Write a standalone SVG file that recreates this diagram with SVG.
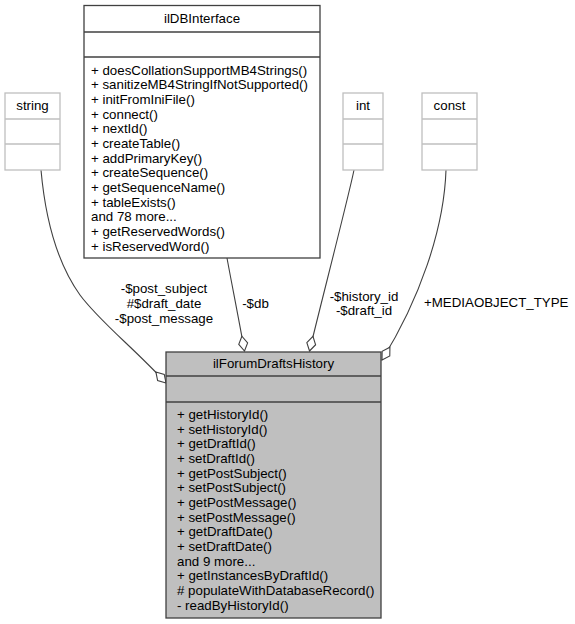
<svg xmlns="http://www.w3.org/2000/svg" width="575" height="624" viewBox="0 0 575 624">
<defs>
<style>
text{font-family:"Liberation Sans",Arial,Helvetica,sans-serif;font-size:13.3px;fill:#000}
.c{text-anchor:middle}
.box{fill:#fff;stroke:#404040;stroke-width:1.3}
.main{fill:#bfbfbf;stroke:#404040;stroke-width:1.3}
.ext{fill:#fff;stroke:#bfbfbf;stroke-width:1.3}
.sep{stroke:#404040;stroke-width:1.3}
.sepx{stroke:#bfbfbf;stroke-width:1.3}
.edge{fill:none;stroke:#404040;stroke-width:1.1;marker-end:url(#odiamond)}
</style>
<marker id="odiamond" viewBox="-16 -6 17 12" refX="0" refY="0" markerWidth="17" markerHeight="12" markerUnits="userSpaceOnUse" orient="auto" overflow="visible">
<polygon points="0,0 -7.5,-4.5 -15,0 -7.5,4.5" fill="#fff" stroke="#404040" stroke-width="1.1"/>
</marker>
</defs>
<rect width="575" height="624" fill="#fff"/>

<g id="edges">
<path class="edge" d="M41,170 C45,215 55,260 80,295 C100,322 134,348 166,383"/>
<path class="edge" d="M227,258 C231,280 239,320 244.5,351"/>
<path class="edge" d="M354,170 C349,195 318,315 309.5,351"/>
<path class="edge" d="M446,170 C444,230 419,300.5 382,360"/>
<text class="c" x="164" y="293">-$post_subject</text>
<text class="c" x="164" y="308">#$draft_date</text>
<text class="c" x="164" y="323">-$post_message</text>
<text class="c" x="255.5" y="307.5">-$db</text>
<text class="c" x="364" y="300.5">-$history_id</text>
<text class="c" x="364" y="314.5">-$draft_id</text>
<text x="424" y="307">+MEDIAOBJECT_TYPE</text>
</g>

<g id="node-string">
<rect class="ext" x="5" y="93" width="55" height="77"/>
<line class="sepx" x1="5" y1="119" x2="60" y2="119"/>
<line class="sepx" x1="5" y1="144" x2="60" y2="144"/>
<text class="c" x="32.5" y="110">string</text>
</g>

<g id="node-int">
<rect class="ext" x="343" y="93" width="40" height="77"/>
<line class="sepx" x1="343" y1="119" x2="383" y2="119"/>
<line class="sepx" x1="343" y1="144" x2="383" y2="144"/>
<text class="c" x="363" y="110">int</text>
</g>

<g id="node-const">
<rect class="ext" x="422" y="93" width="55" height="77"/>
<line class="sepx" x1="422" y1="119" x2="477" y2="119"/>
<line class="sepx" x1="422" y1="144" x2="477" y2="144"/>
<text class="c" x="449.5" y="110">const</text>
</g>

<g id="node-ilDBInterface">
<rect class="box" x="84" y="5.5" width="236" height="252.5"/>
<line class="sep" x1="84" y1="32" x2="320" y2="32"/>
<line class="sep" x1="84" y1="57" x2="320" y2="57"/>
<text class="c" x="202" y="23">ilDBInterface</text>
<text x="91" y="74.5">+ doesCollationSupportMB4Strings()</text>
<text x="91" y="89.17">+ sanitizeMB4StringIfNotSupported()</text>
<text x="91" y="103.83">+ initFromIniFile()</text>
<text x="91" y="118.5">+ connect()</text>
<text x="91" y="133.17">+ nextId()</text>
<text x="91" y="147.83">+ createTable()</text>
<text x="91" y="162.5">+ addPrimaryKey()</text>
<text x="91" y="177.17">+ createSequence()</text>
<text x="91" y="191.83">+ getSequenceName()</text>
<text x="91" y="206.5">+ tableExists()</text>
<text x="91" y="221.17">and 78 more...</text>
<text x="91" y="235.83">+ getReservedWords()</text>
<text x="91" y="250.5">+ isReservedWord()</text>
</g>

<g id="node-ilForumDraftsHistory">
<rect class="main" x="166" y="352" width="215" height="266"/>
<line class="sep" x1="166" y1="376" x2="381" y2="376"/>
<line class="sep" x1="166" y1="402" x2="381" y2="402"/>
<text class="c" x="273.5" y="368">ilForumDraftsHistory</text>
<text x="177" y="419">+ getHistoryId()</text>
<text x="177" y="433.67">+ setHistoryId()</text>
<text x="177" y="448.33">+ getDraftId()</text>
<text x="177" y="463">+ setDraftId()</text>
<text x="177" y="477.67">+ getPostSubject()</text>
<text x="177" y="492.33">+ setPostSubject()</text>
<text x="177" y="507">+ getPostMessage()</text>
<text x="177" y="521.67">+ setPostMessage()</text>
<text x="177" y="536.33">+ getDraftDate()</text>
<text x="177" y="551">+ setDraftDate()</text>
<text x="177" y="565.67">and 9 more...</text>
<text x="177" y="580.33">+ getInstancesByDraftId()</text>
<text x="177" y="595"># populateWithDatabaseRecord()</text>
<text x="177" y="609.67">- readByHistoryId()</text>
</g>
</svg>
